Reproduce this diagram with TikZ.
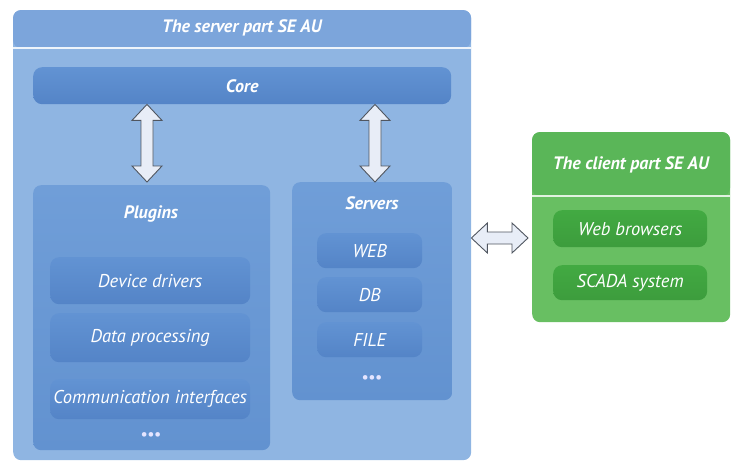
\documentclass[tikz,border=0pt]{standalone}
\usepackage{fontspec}
\setmainfont{PT Sans}
\usetikzlibrary{calc}

\definecolor{srvbody}{RGB}{143,181,226}
\definecolor{srvhead}{RGB}{124,165,219}
\definecolor{grptop}{RGB}{112,158,216}
\definecolor{grpbot}{RGB}{98,146,208}
\definecolor{itemtop}{RGB}{98,147,211}
\definecolor{itembot}{RGB}{84,132,199}
\definecolor{clibody}{RGB}{104,191,98}
\definecolor{clihead}{RGB}{90,182,88}
\definecolor{cliitem}{RGB}{66,170,66}
\definecolor{arrfill}{RGB}{232,237,247}
\definecolor{arrline}{RGB}{80,86,96}

\tikzset{
    box/.style={rounded corners=8pt, draw=none, anchor=north west, inner sep=0pt},
    grp/.style={box, top color=grptop, bottom color=grpbot},
    item/.style={box, rounded corners=9pt, top color=itemtop, bottom color=itembot,
        font=\itshape\fontsize{18.5}{20}\selectfont, text=white},
    cli item/.style={box, rounded corners=9pt, top color=cliitem, bottom color=cliitem!92!black,
        font=\itshape\fontsize{18.5}{20}\selectfont, text=white},
    title/.style={font=\bfseries\itshape\fontsize{18}{20}\selectfont, text=white},
    dots/.style={font=\bfseries\fontsize{15}{16}\selectfont, text=white!90!blue},
    fatarrow/.style={draw=arrline, fill=arrfill, line width=0.9pt, line join=miter,
        to path={
            ($(\tikztostart)!16pt!(\tikztotarget)$) coordinate (fa1)
            ($(\tikztotarget)!16pt!(\tikztostart)$) coordinate (fa2)
            (\tikztostart) -- ($(fa1)!15pt!90:(\tikztotarget)$)
            -- ($(fa1)!6pt!90:(\tikztotarget)$) -- ($(fa2)!6pt!-90:(\tikztostart)$)
            -- ($(fa2)!15pt!-90:(\tikztostart)$) -- (\tikztotarget)
            -- ($(fa2)!15pt!90:(\tikztostart)$) -- ($(fa2)!6pt!90:(\tikztostart)$)
            -- ($(fa1)!6pt!-90:(\tikztotarget)$) -- ($(fa1)!15pt!-90:(\tikztotarget)$)
            -- cycle}}
}

\begin{document}
\begin{tikzpicture}[x=1pt, y=-1pt]
\useasboundingbox (0,0) rectangle (732,461);

% server part
\node[box, fill=srvbody, minimum width=458pt, minimum height=450pt] (server) at (13,10) {};
\fill[srvhead, rounded corners=8pt] (13,48) |- (471,10) -- (471,48) -- cycle;
\draw[white!85!srvbody, line width=1.2pt] (13,48) -- (471,48);
\node[title] (servertitle) at (242,28) {The server part SE AU};

\node[item, font=\bfseries\itshape\fontsize{18}{20}\selectfont,
      minimum width=418pt, minimum height=37pt] (core) at (33,67) {Core};

% plugins
\node[grp, minimum width=237pt, minimum height=265pt] (plugins) at (33,185) {};
\node[title] (pluginstitle) at (151,214) {Plugins};
\foreach \name/\y/\h/\txt in {drivers/257/47/Device drivers,
                             processing/313/49/Data processing,
                             comm/379/40/Communication interfaces}
    \node[item, minimum width=200pt, minimum height=\h pt] (\name) at (50,\y) {\txt};
\node[dots] (plugdots) at (151,436) {\textbullet\textbullet\textbullet};

% servers
\node[grp, minimum width=160pt, minimum height=218pt] (servers) at (292,182) {};
\node[title] (serverstitle) at (372,203) {Servers};
\foreach \name/\y/\txt in {web/233/WEB, db/277/DB, file/322/FILE}
    \node[item, minimum width=105pt, minimum height=35pt] (\name) at (317,\y) {\txt};
\node[dots] (srvdots) at (372,379) {\textbullet\textbullet\textbullet};

% client part
\node[box, fill=clibody, minimum width=198pt, minimum height=190pt] (client) at (532,132) {};
\fill[clihead, rounded corners=8pt] (532,196) |- (730,132) -- (730,196) -- cycle;
\draw[white!80!clibody, line width=1.2pt] (532,196) -- (730,196);
\node[title] (clienttitle) at (631,165) {The client part SE AU};
\node[cli item, minimum width=154pt, minimum height=37pt] (browsers) at (553,210) {Web browsers};
\node[cli item, minimum width=154pt, minimum height=35pt] (scada) at (553,265) {SCADA system};

% arrows
\coordinate (a1) at (core.south -| 147,0);
\coordinate (a2) at (147,182);
\draw[fatarrow] (a1) to (a2);
\coordinate (b1) at (core.south -| 375,0);
\coordinate (b2) at (servers.north -| 375,0);
\draw[fatarrow] (b1) to (b2);
\coordinate (c1) at (server.east |- 0,238);
\coordinate (c2) at (528,238);
\draw[fatarrow] (c1) to (c2);
\end{tikzpicture}
\end{document}
